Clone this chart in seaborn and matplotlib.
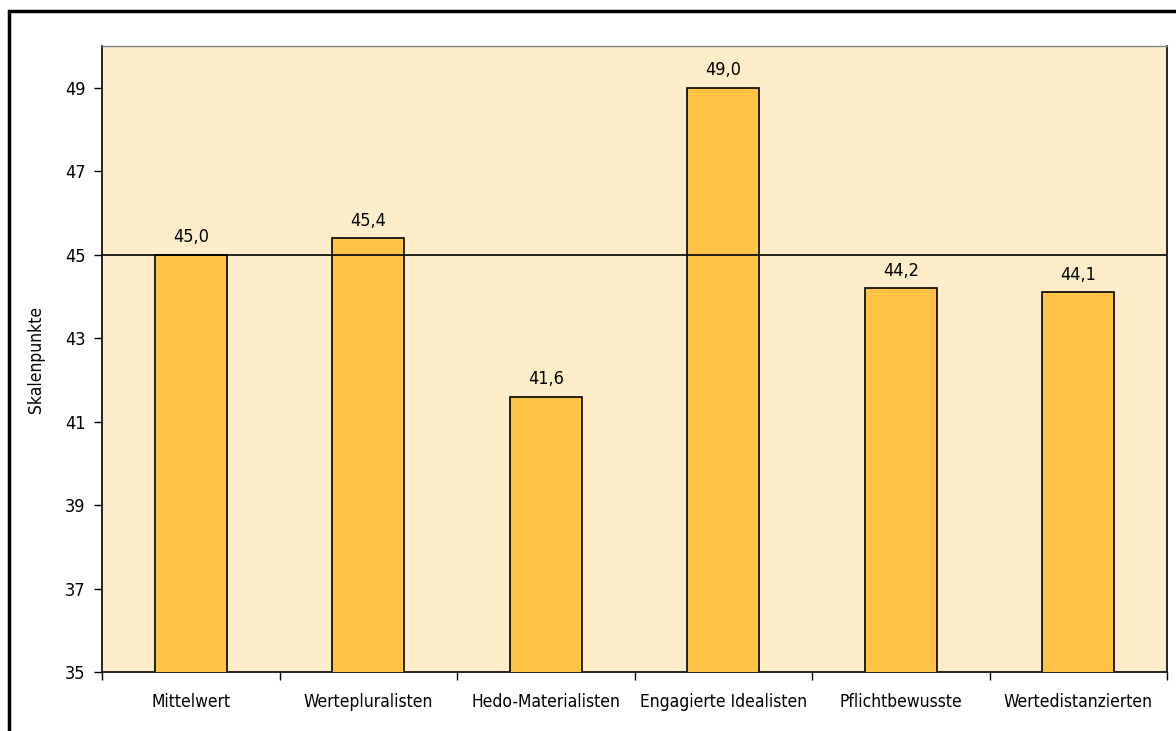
import matplotlib
matplotlib.use("Agg")
import matplotlib.pyplot as plt
import seaborn as sns
import pandas as pd
from matplotlib.patches import Rectangle

categories = ["Mittelwert", "Wertepluralisten", "Hedo-Materialisten",
              "Engagierte Idealisten", "Pflichtbewusste", "Wertedistanzierten"]
values = [45.0, 45.4, 41.6, 49.0, 44.2, 44.1]
value_labels = ["45,0", "45,4", "41,6", "49,0", "44,2", "44,1"]
yticks = [35, 37, 39, 41, 43, 45, 47, 49]
reference_line = 45

sns.set_theme(style="white")
plt.rcParams['font.family'] = ['DejaVu Sans']
plt.rcParams['font.stretch'] = 'condensed'
plt.rcParams['text.color'] = 'black'
plt.rcParams['axes.labelcolor'] = 'black'
plt.rcParams['xtick.color'] = 'black'
plt.rcParams['ytick.color'] = 'black'

fig = plt.figure(figsize=(11.76, 7.31), dpi=100)
ax = fig.add_axes([102/1176, 1 - 672/731, (1167-102)/1176, (672-46)/731])

df = pd.DataFrame({"cat": categories, "val": values})
sns.barplot(data=df, x="cat", y="val", color="#FFC445", saturation=1,
            width=0.405, edgecolor="black", linewidth=1.2, ax=ax, zorder=3)

ax.set_facecolor("#FDEEC9")
ax.set_ylim(35, 50)
ax.set_xlim(-0.5, len(categories) - 0.5)
ax.set_yticks(yticks)
ax.set_yticklabels([str(t) for t in yticks], fontsize=13)
ax.set_xticks(range(len(categories)))
ax.set_xticklabels(categories, fontsize=12.5)
ax.tick_params(axis="x", length=0, pad=15)
ax.tick_params(axis="y", length=6, width=1, color="black", direction="out", left=True, pad=6)
ax.set_xticks([i - 0.5 for i in range(len(categories) + 1)], minor=True)
ax.tick_params(axis="x", which="minor", length=6, width=1, color="black", direction="out", bottom=True)

ax.axhline(reference_line, color="black", linewidth=1.2, zorder=4)

for i, (v, lab) in enumerate(zip(values, value_labels)):
    ax.annotate(lab, (i, v), xytext=(0, 6), textcoords="offset points",
                ha="center", va="bottom", fontsize=13, color="black")

ax.set_xlabel("")
ax.set_ylabel("Skalenpunkte", fontsize=12.5)
ax.yaxis.set_label_coords((45 - 102) / 1065, 0.5)

for side in ["left", "bottom", "right"]:
    ax.spines[side].set_color("black")
    ax.spines[side].set_linewidth(1.2)
ax.spines["top"].set_color("#808080")
ax.spines["top"].set_linewidth(1.0)

fig.patches.append(Rectangle((9/1176, -0.05), 1.2, 1 - 11/731 + 0.05,
                             transform=fig.transFigure, fill=False,
                             edgecolor="black", linewidth=2.5))

fig.savefig("out.png", dpi=100)
